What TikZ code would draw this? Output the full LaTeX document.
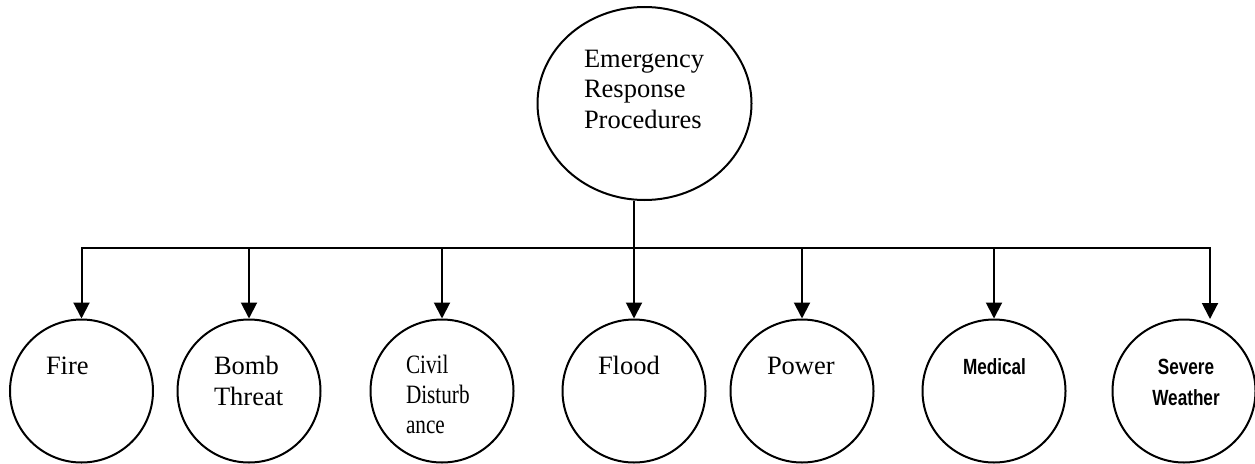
\documentclass[tikz,border=0pt]{standalone}
\usepackage{fontspec}
\setmainfont{Liberation Serif}
\newfontfamily\narrowserif{Liberation Serif}[FakeStretch=0.8]
\newfontfamily\narrowsans{Liberation Sans}[FakeStretch=0.78]
\usetikzlibrary{arrows.meta,shapes.geometric}
\begin{document}
\begin{tikzpicture}[x=1pt,y=-1pt,
  line width=2pt,
  bubble/.style={draw,circle,minimum size=143pt,inner sep=0pt},
  % multi-line texts are placed by the baseline of their last line
  txt/.style={inner sep=0pt,anchor=base west,align=left,
    font=\fontsize{26.5}{30.5}\selectfont},
  boldtxt/.style={inner sep=0pt,anchor=base,align=center,
    font=\narrowsans\bfseries\fontsize{22}{31}\selectfont},
  arr/.style={-{Triangle[width=16pt,length=16pt]}}]
\useasboundingbox (0,0) rectangle (1255,463);

% root
\node[draw,ellipse,minimum width=214pt,minimum height=193pt,inner sep=0pt]
  (root) at (644.5,103.5) {};
\node[txt] (roottext) at (583,128) {Emergency\\Response\\Procedures};

% children
\node[bubble] (fire)    at (81.5,391) {};
\node[bubble] (bomb)    at (249,391) {};
\node[bubble] (civil)   at (442,391) {};
\node[bubble] (flood)   at (634,391) {};
\node[bubble] (power)   at (802,391) {};
\node[bubble] (medical) at (994,391) {};
\node[bubble] (severe)  at (1184,391) {};

\node[txt] (firetext)  at (45,374) {Fire};
\node[txt] (bombtext)  at (213,405) {Bomb\\Threat};
\node[txt,font=\narrowserif\fontsize{26.5}{30}\selectfont] (civiltext) at (405,433) {Civil\\Disturb\\ance};
\node[txt] (floodtext) at (597,374) {Flood};
\node[txt] (powertext) at (766,374) {Power};
\node[boldtxt,anchor=base west] (medtext) at (962,374) {Medical};
\node[boldtxt] (sevtext) at (1186,405) {Severe\\Weather};

% tree connectors
\coordinate (bus) at (634,248);
\coordinate (sevtip) at (1210,319);
\draw (bus |- root.south) -- (bus);
\draw[arr] (bus) -| (fire.north);
\draw[arr] (bus) -| (sevtip);
\foreach \c in {bomb,civil,flood,power,medical}
  \draw[arr] (bus -| \c.north) -- (\c.north);
\end{tikzpicture}
\end{document}
